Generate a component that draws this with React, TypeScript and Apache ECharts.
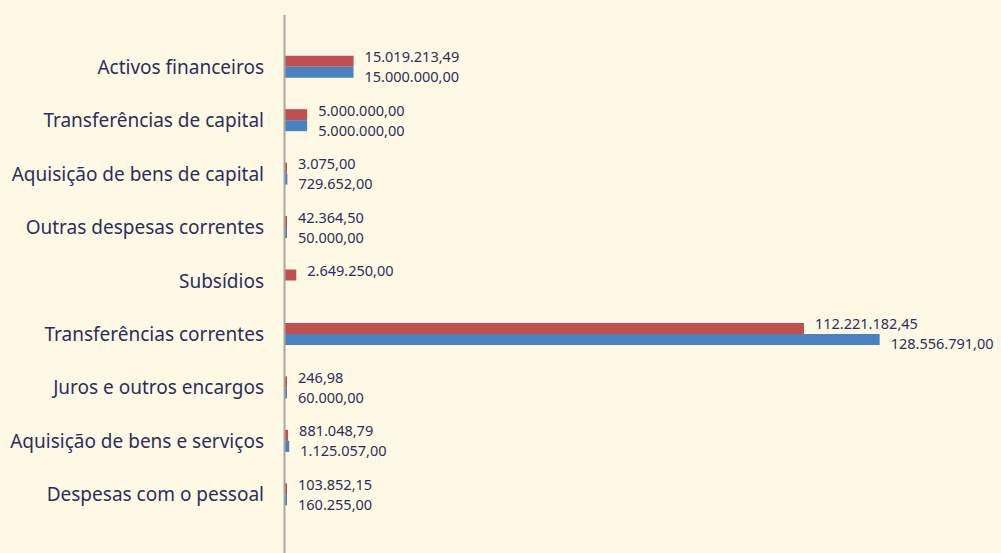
import React, { useEffect, useRef } from "react";
import * as echarts from "echarts";

const categories = [
  "Activos financeiros",
  "Transferências de capital",
  "Aquisição de bens de capital",
  "Outras despesas correntes",
  "Subsídios",
  "Transferências correntes",
  "Juros e outros encargos",
  "Aquisição de bens e serviços",
  "Despesas com o pessoal",
];

const redValues: (number | string)[] = [
  15019213.49, 5000000.0, 3075.0, 42364.5, 2649250.0, 112221182.45, 246.98, 881048.79, 103852.15,
];

const blueValues: (number | string)[] = [
  15000000.0, 5000000.0, 729652.0, 50000.0, "-", 128556791.0, 60000.0, 1125057.0, 160255.0,
];

const TEXT = "#2B2E5E";
const FONT = "Noto Sans";

function fmt(v: number): string {
  const fixed = Number(v).toFixed(2);
  const [intPart, dec] = fixed.split(".");
  const withDots = intPart.replace(/\B(?=(\d{3})+(?!\d))/g, ".");
  return withDots + "," + dec;
}

export default function App() {
  const ref = useRef<HTMLDivElement>(null);
  useEffect(() => {
    if (!ref.current) return;
    const chart = echarts.init(ref.current, undefined, { renderer: "svg" });
    chart.setOption({
      animation: false,
      backgroundColor: "#FEF9E4",
      grid: { left: 284, right: 22, top: 40, bottom: 32, containLabel: false },
      xAxis: {
        type: "value",
        min: 0,
        max: 150000000,
        show: false,
      },
      yAxis: {
        type: "category",
        data: categories,
        inverse: true,
        axisLine: { show: false },
        axisTick: { show: false },
        axisLabel: {
          color: TEXT,
          fontFamily: FONT,
          fontSize: 19,
          margin: 20,
        },
      },
      graphic: [
        {
          type: "line",
          shape: { x1: 284.5, y1: 15, x2: 284.5, y2: 553 },
          style: { stroke: "#A8A6A0", lineWidth: 2 },
          z: 10,
        },
      ],
      series: [
        {
          name: "red",
          type: "bar",
          data: redValues,
          barWidth: 11,
          barGap: "0%",
          barMinHeight: 3,
          itemStyle: { color: "#C0504D" },
          label: {
            show: true,
            position: "right",
            distance: 11,
            offset: [0, -5],
            color: TEXT,
            fontFamily: FONT,
            fontSize: 14.5,
            lineHeight: 15,
            formatter: (p: any) => fmt(p.value),
          },
        },
        {
          name: "blue",
          type: "bar",
          data: blueValues,
          barWidth: 11,
          barGap: "0%",
          barMinHeight: 3,
          itemStyle: { color: "#4A81C0" },
          label: {
            show: true,
            position: "right",
            distance: 11,
            offset: [0, 4],
            color: TEXT,
            fontFamily: FONT,
            fontSize: 14.5,
            lineHeight: 15,
            formatter: (p: any) => fmt(p.value),
          },
        },
      ],
    });
    return () => chart.dispose();
  }, []);
  return (
    <div
      ref={ref}
      style={{ position: "fixed", left: 0, top: 0, width: 1001, height: 553 }}
    />
  );
}
